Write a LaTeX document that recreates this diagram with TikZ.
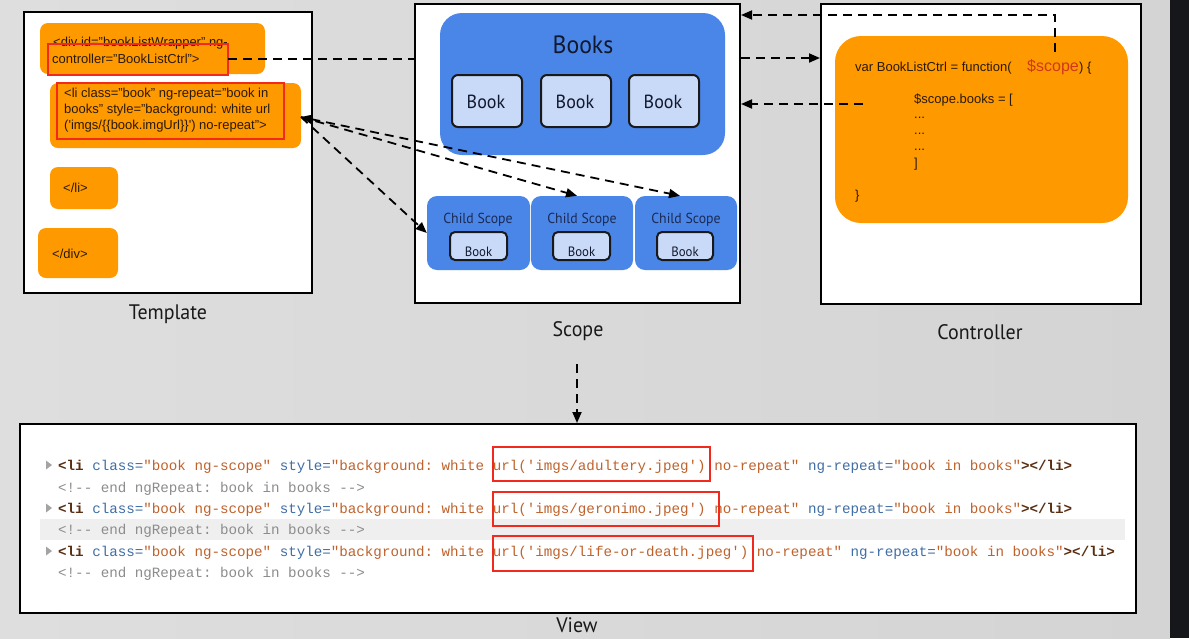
\documentclass[tikz,border=0pt]{standalone}
\usepackage{fontspec}
\setmainfont{Liberation Sans}
\setmonofont{Liberation Mono}
\newfontfamily\labfont[FakeStretch=0.95]{PT Sans}
\usetikzlibrary{arrows.meta,fit}
\definecolor{orng}{HTML}{FF9900}
\definecolor{redc}{HTML}{F22A1E}
\definecolor{blu}{HTML}{4A86E8}
\definecolor{bookc}{HTML}{C9DAF8}
\definecolor{navy}{HTML}{1B2A55}
\definecolor{bookt}{HTML}{12182E}
\definecolor{codec}{HTML}{2A1A05}
\definecolor{scopec}{HTML}{D0381A}
\definecolor{tagc}{HTML}{5A2E12}
\definecolor{attrn}{HTML}{3F6EA6}
\definecolor{attrv}{HTML}{C0622B}
\definecolor{commc}{HTML}{8C8C8C}
\definecolor{band}{HTML}{EFEFEF}
\definecolor{bgl}{HTML}{DEDEDE}
\definecolor{bgm}{HTML}{F3F3F3}
\definecolor{bgr}{HTML}{D4D4D4}
\definecolor{darkstrip}{HTML}{15171B}
\newcommand{\mytag}[1]{\textcolor{tagc}{\textbf{#1}}}
\newcommand{\myattr}[1]{\textcolor{attrn}{#1}}
\newcommand{\myval}[1]{\textcolor{attrv}{#1}}
\begin{document}
\begin{tikzpicture}[x=1pt,y=-1pt,
  frame/.style={draw=black, line width=2pt, fill=white, inner sep=0pt},
  obox/.style={fill=orng, rounded corners=8pt, inner sep=0pt},
  rbox/.style={draw=redc, line width=1.6pt, inner sep=0pt},
  bluebig/.style={fill=blu, rounded corners=22pt, inner sep=0pt},
  bookbox/.style={fill=bookc, draw=black!90, line width=2pt, rounded corners=6pt, inner sep=0pt},
  smallbook/.style={fill=bookc, draw=black!90, line width=2pt, rounded corners=5pt, inner sep=0pt},
  child/.style={fill=blu, rounded corners=10pt, inner sep=0pt},
  tmpltext/.style={anchor=base west, inner sep=0pt, font=\fontsize{13}{16}\selectfont, text=codec},
  ctext/.style={anchor=base west, inner sep=0pt, font=\fontsize{13}{15}\selectfont, text=codec},
  vtext/.style={anchor=base west, inner sep=0pt, font=\ttfamily\fontsize{14.2}{17}\selectfont},
  biglab/.style={inner sep=0pt, font=\labfont\fontsize{21}{24}\selectfont, text=black!90},
  booklab/.style={inner sep=0pt, font=\labfont\fontsize{19}{22}\selectfont, text=bookt},
  dline/.style={line width=1.8pt, dash pattern=on 9pt off 6pt, draw=black},
  darrow/.style={dline, -{Triangle[length=11pt,width=9pt]}}
]
\useasboundingbox (0,0) rectangle (1189,638);
\shade[left color=bgl, middle color=bgm, right color=bgr] (0,0) rectangle (1170,638);
\fill[darkstrip] (1170,0) rectangle (1189,638);

% ---------- Template ----------
\node[frame, fit={(24,12) (312,293)}] (tmpl) {};
\node[obox, fit={(40,23) (265,74)}] (o1) {};
\node[tmpltext] (t1a) at (53,46) {<div id="bookListWrapper" ng-};
\node[tmpltext] (t1b) at (52,63) {controller="BookListCtrl">};
\node[rbox, fit={(48,44) (228,75)}] (r1) {};
\node[obox, fit={(50,83) (301,148)}] (o2) {};
\node[tmpltext] (t2a) at (64,97) {<li class="book" ng-repeat="book in};
\node[tmpltext] (t2b) at (64,113) {books" style="background: white url};
\node[tmpltext] (t2c) at (64,129) {(\textquotesingle imgs/\{\{book.imgUrl\}\}\textquotesingle) no-repeat">};
\node[rbox, fit={(57,83) (284,139)}] (r2) {};
\node[obox, fit={(50,167) (118,209)}] (o3) {};
\node[tmpltext] (t3) at (63,192) {</li>};
\node[obox, fit={(38,228) (118,278)}] (o4) {};
\node[tmpltext] (t4) at (52,258) {</div>};
\node[biglab] (tmpllab) at (168,314) {Template};

% ---------- Scope ----------
\node[frame, fit={(415,4) (740,303)}] (scope) {};
\node[bluebig, fit={(440,13) (725,155)}] (books) {};
\node[biglab, font=\labfont\fontsize{25}{28}\selectfont, text=bookt] (bookslab) at (583,45) {Books};
\node[bookbox, fit={(452,75) (522,127)}] (b1) {};
\node[bookbox, fit={(541,75) (611,127)}] (b2) {};
\node[bookbox, fit={(629,75) (699,127)}] (b3) {};
\foreach \nm in {1,2,3}{
  \node[booklab] (bt\nm) at ([xshift=-1pt,yshift=-1pt]b\nm.center) {Book};
}

\node[child, fit={(427,196) (530,270)}] (ch1) {};
\node[child, fit={(531,196) (633,270)}] (ch2) {};
\node[child, fit={(635,196) (737,270)}] (ch3) {};
\foreach \cx/\nm in {478/1, 582/2, 686/3}{
  \node[inner sep=0pt, font=\labfont\fontsize{14.5}{17}\selectfont, text=navy] (cs\nm) at (\cx,220) {Child Scope};
}
\node[smallbook, fit={(450,232) (507,260)}] (sb1) {};
\node[smallbook, fit={(553,232) (610,260)}] (sb2) {};
\node[smallbook, fit={(657,232) (713,260)}] (sb3) {};
\foreach \nm in {1,2,3}{
  \node[anchor=base, inner sep=0pt, font=\labfont\fontsize{13.5}{16}\selectfont, text=bookt] (sbt\nm) at ([yshift=4.5pt]sb\nm.south) {Book};
}
\node[biglab] (scopelab) at (578,331) {Scope};

% ---------- Controller ----------
\node[frame, fit={(821,4) (1141,304)}] (ctrl) {};
\node[fill=orng, rounded corners=26pt, inner sep=0pt, fit={(835,36) (1128,223)}] (cbox) {};
\node[ctext] (cl1) at (855,71) {var BookListCtrl = function(};
\node[ctext, font=\fontsize{16}{18}\selectfont, text=scopec] (sc) at (1027,71) {\$scope};
\node[ctext] (cl1b) at (sc.base east) {) \{};
\node[ctext] (cl2) at (914,103) {\$scope.books = [};
\node[ctext] (cl3) at (914,118) {...};
\node[ctext] (cl4) at (914,134) {...};
\node[ctext] (cl5) at (914,150) {...};
\node[ctext] (cl6) at (914,167) {]};
\node[ctext] (cl7) at (855,199) {\}};
\node[biglab] (ctrllab) at (980,332) {Controller};

% ---------- View ----------
\node[frame, fit={(20,424) (1136,613)}] (view) {};
\fill[band] (40,519) rectangle (1125,540);
\foreach \yy in {465,508,551}{
  \fill[commc!80] (46,\yy-4.5) -- (52,\yy) -- (46,\yy+4.5) -- cycle;
}
\node[vtext] (v1) at (58,470) {\mytag{<li} \myattr{class=}\myval{"book ng-scope"} \myattr{style=}\myval{"background: white url('imgs/adultery.jpeg') no-repeat"} \myattr{ng-repeat=}\myval{"book in books"}\mytag{></li>}};
\node[vtext, text=commc] (v2) at (58,492) {<!-- end ngRepeat: book in books -->};
\node[vtext] (v3) at (58,513) {\mytag{<li} \myattr{class=}\myval{"book ng-scope"} \myattr{style=}\myval{"background: white url('imgs/geronimo.jpeg') no-repeat"} \myattr{ng-repeat=}\myval{"book in books"}\mytag{></li>}};
\node[vtext, text=commc] (v4) at (58,534) {<!-- end ngRepeat: book in books -->};
\node[vtext] (v5) at (58,556) {\mytag{<li} \myattr{class=}\myval{"book ng-scope"} \myattr{style=}\myval{"background: white url('imgs/life-or-death.jpeg') no-repeat"} \myattr{ng-repeat=}\myval{"book in books"}\mytag{></li>}};
\node[vtext, text=commc] (v6) at (58,577) {<!-- end ngRepeat: book in books -->};
\node[rbox, line width=2pt, fit={(493,447) (710,481)}] (u1) {};
\node[rbox, line width=2pt, fit={(493,492) (719,526)}] (u2) {};
\node[rbox, line width=2pt, fit={(493,536) (753,571)}] (u3) {};
\node[biglab] (viewlab) at (577,625) {View};

% ---------- Connectors ----------
\coordinate (c1a) at (228,59);
\draw[dline] (c1a) -- (c1a -| scope.west);
\coordinate (scb) at (1055,52);
\coordinate (sct) at (1055,15);
\draw[darrow] (scb) -- (sct) -- (sct -| scope.east);
\coordinate (m3) at (741,58);
\draw[darrow] (m3) -- (m3 -| ctrl.west);
\coordinate (m4) at (863,104);
\draw[darrow] (m4) -- (m4 -| scope.east);
\coordinate (li) at (301,117);
\draw[darrow] (li) -- (ch1.west);
\draw[darrow] (li) -- ([xshift=-5pt]ch2.north);
\draw[dline, {Triangle[length=11pt,width=9pt]}-{Triangle[length=11pt,width=9pt]}] (li) -- ([xshift=-6pt]ch3.north);
\coordinate (sv) at (577,364);
\draw[darrow] (sv) -- (sv |- view.north);
\end{tikzpicture}
\end{document}
